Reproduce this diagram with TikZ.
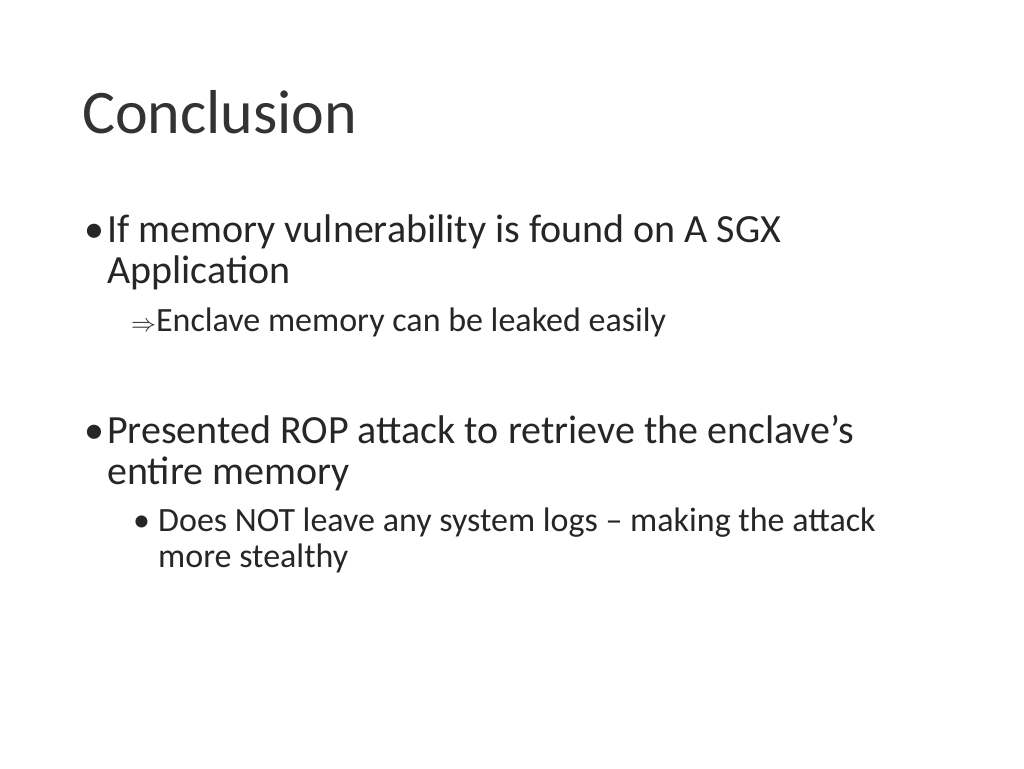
\documentclass[tikz,border=0pt]{standalone}
\usepackage{fontspec}
\setmainfont{Carlito}
\usepackage{amssymb}
\begin{document}
\begin{tikzpicture}[x=1pt,y=1pt,
  t/.style={anchor=base west,inner sep=0pt,text=black!85},
  big/.style={t,font=\fontsize{40}{48}\selectfont},
  small/.style={t,font=\fontsize{34}{40}\selectfont}]
\useasboundingbox (0,0) rectangle (1024,-768);
\node[t,font=\fontsize{62}{70}\selectfont,text=black!80] (title) at (82,-133) {Conclusion};
\node[big] (b1) at (84,-242) {•};
\node[big] (l1) at (107,-242) {If memory vulnerability is found on A SGX};
\node[big] (l2) at (107,-283) {Application};
\node[small] (l3) at (131,-331) {$\Rightarrow$Enclave memory can be leaked easily};
\node[big] (b2) at (84,-443) {•};
\node[big] (l4) at (107,-443) {Presented ROP attack to retrieve the enclave’s};
\node[big] (l5) at (107,-484) {entire memory};
\node[small] (b3) at (133,-531) {•};
\node[small] (l6) at (158,-531) {Does NOT leave any system logs – making the attack};
\node[small] (l7) at (158,-567) {more stealthy};
\end{tikzpicture}
\end{document}
